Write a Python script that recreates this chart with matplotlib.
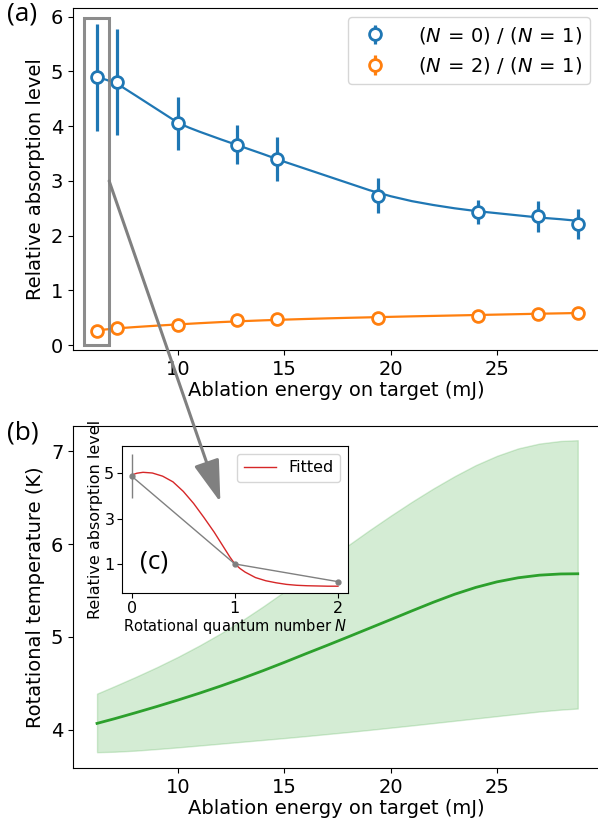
import matplotlib
matplotlib.use("Agg")
import matplotlib.pyplot as plt
from matplotlib.patches import Rectangle, ConnectionPatch

plt.rcParams.update({
    "font.family": "DejaVu Sans",
    "font.size": 14,
    "mathtext.fontset": "dejavusans",
})

AZUL = "tab:blue"
LARANJA = "tab:orange"
VERDE = "tab:green"

# energia de ablacao (mJ) de cada medida
energia = [6.18, 7.11, 9.99, 12.77, 14.66, 19.40, 24.12, 26.92, 28.81]
# razao (N=0)/(N=1) e incerteza
r01 = [4.89, 4.81, 4.05, 3.66, 3.40, 2.73, 2.44, 2.35, 2.21]
r01_err = [0.97, 0.97, 0.48, 0.36, 0.40, 0.32, 0.22, 0.28, 0.27]
# razao (N=2)/(N=1) e incerteza
r21 = [0.25, 0.31, 0.37, 0.46, 0.47, 0.50, 0.54, 0.57, 0.59]
r21_err = [0.03, 0.03, 0.03, 0.03, 0.03, 0.03, 0.03, 0.03, 0.03]

# curvas ajustadas
e_fit01 = [6.18, 6.6, 7.11, 8, 9, 9.5, 10, 10.5, 11, 12, 13, 14, 15, 16, 17, 18, 19, 20,
           21, 22, 23, 24, 25, 26, 27, 28, 28.81]
r01_fit = [4.89, 4.85, 4.78, 4.56, 4.31, 4.185, 4.06, 3.975, 3.90, 3.76, 3.625, 3.49, 3.35,
           3.22, 3.09, 2.96, 2.83, 2.72, 2.63, 2.56, 2.50, 2.45, 2.41, 2.37, 2.33, 2.30, 2.27]
e_fit21 = [6.18, 7.1, 8, 9, 10, 11, 12, 13, 14, 15, 16, 17, 18, 19, 20, 21, 22, 23, 24, 25,
           26, 27, 28, 28.8]
r21_fit = [0.27, 0.305, 0.33, 0.355, 0.378, 0.40, 0.42, 0.437, 0.452, 0.465, 0.477, 0.488,
           0.498, 0.507, 0.516, 0.525, 0.533, 0.541, 0.549, 0.557, 0.565, 0.573, 0.58, 0.586]

# temperatura rotacional e banda de incerteza
e_temp = [6.18, 7, 8, 9, 10, 11, 12, 13, 14, 15, 16, 17, 18, 19, 20, 21, 22, 23, 24, 25,
          26, 27, 28, 28.8]
temp = [4.07, 4.12, 4.185, 4.252, 4.322, 4.395, 4.472, 4.553, 4.638, 4.727, 4.819, 4.909,
        5.001, 5.094, 5.187, 5.281, 5.373, 5.459, 5.533, 5.593, 5.637, 5.665, 5.678, 5.68]
temp_sup = [4.39, 4.47, 4.57, 4.675, 4.787, 4.908, 5.038, 5.177, 5.329, 5.489, 5.654, 5.821,
            5.987, 6.149, 6.305, 6.455, 6.597, 6.729, 6.849, 6.949, 7.029, 7.081, 7.109, 7.117]
temp_inf = [3.76, 3.765, 3.777, 3.794, 3.812, 3.832, 3.852, 3.872, 3.892, 3.912, 3.933, 3.955,
            3.977, 4.0, 4.024, 4.048, 4.073, 4.098, 4.123, 4.148, 4.173, 4.198, 4.218, 4.23]

# distribuicao rotacional do primeiro ponto
n_rot = [0, 1, 2]
pop = [4.87, 1.0, 0.22]
pop_err = [0.97, 0, 0]
n_fit = [0, 0.05, 0.11, 0.2, 0.3, 0.4, 0.5, 0.6, 0.7, 0.8, 0.9, 0.95, 1.0, 1.05, 1.1, 1.2,
         1.3, 1.4, 1.5, 1.6, 1.7, 1.8, 1.9, 2.0]
pop_fit = [4.92, 5.0, 5.04, 5.01, 4.87, 4.62, 4.2, 3.67, 3.05, 2.4, 1.68, 1.32, 1.0, 0.80,
           0.64, 0.40, 0.26, 0.17, 0.10, 0.06, 0.04, 0.03, 0.02, 0.02]

fig = plt.figure(figsize=(5.98, 8.26), dpi=100)
W, H = 598, 826
ax_a = fig.add_axes([73 / W, 1 - 350 / H, (599 - 73) / W, (350 - 8) / H])
ax_b = fig.add_axes([73 / W, 1 - 768 / H, (599 - 73) / W, (768 - 426) / H])
ax_c = fig.add_axes([122 / W, 1 - 593 / H, (348 - 122) / W, (593 - 446) / H])

# ---------------------------------------------------------------------------
# (a) razoes de absorcao
# ---------------------------------------------------------------------------
estilo = dict(fmt="o", mfc="white", ms=8.5, mew=2, elinewidth=2.3, capsize=0, zorder=3)
ax_a.errorbar(energia, r01, yerr=r01_err, color=AZUL, mec=AZUL,
              label=r"$(N\,=\,0)$ / $(N\,=\,1)$", **estilo)
ax_a.errorbar(energia, r21, yerr=r21_err, color=LARANJA, mec=LARANJA,
              label=r"$(N\,=\,2)$ / $(N\,=\,1)$", **estilo)
ax_a.plot(e_fit01, r01_fit, color=AZUL, lw=1.6, zorder=2)
ax_a.plot(e_fit21, r21_fit, color=LARANJA, lw=1.6, zorder=2)
ax_a.add_patch(Rectangle((5.55, 0), 1.2, 5.97, fill=False, edgecolor="gray",
                         lw=2.2, alpha=0.9, zorder=4))
ax_a.set_xlim(5.05, 29.8)
ax_a.set_ylim(-0.09, 6.16)
ax_a.set_xticks([10, 15, 20, 25])
ax_a.set_yticks(range(7))
ax_a.set_xlabel("Ablation energy on target (mJ)", labelpad=2)
ax_a.set_ylabel("Relative absorption level")
ax_a.legend(loc="upper right", fontsize=14, handletextpad=1.2, borderaxespad=0.45)

# ---------------------------------------------------------------------------
# (b) temperatura rotacional
# ---------------------------------------------------------------------------
ax_b.fill_between(e_temp, temp_inf, temp_sup, color=VERDE, alpha=0.2)
ax_b.plot(e_temp, temp, color=VERDE, lw=2)
ax_b.set_xlim(5.05, 29.8)
ax_b.set_ylim(3.59, 7.27)
ax_b.set_xticks([10, 15, 20, 25])
ax_b.set_yticks([4, 5, 6, 7])
ax_b.set_xlabel("Ablation energy on target (mJ)", labelpad=2)
ax_b.set_ylabel("Rotational temperature (K)")

# ---------------------------------------------------------------------------
# (c) distribuicao rotacional (inset)
# ---------------------------------------------------------------------------
ax_c.errorbar(n_rot, pop, yerr=pop_err, fmt="-o", color="gray", ms=3.5, lw=1,
              elinewidth=1, capsize=0)
ax_c.plot(n_fit, pop_fit, color="tab:red", lw=1, label="Fitted")
ax_c.set_xlim(-0.094, 2.097)
ax_c.set_ylim(-0.28, 6.2)
ax_c.set_xticks([0, 1, 2])
ax_c.set_yticks([1, 3, 5])
ax_c.tick_params(labelsize=11.5, pad=2)
ax_c.set_xlabel("Rotational quantum number $N$", fontsize=10.5, labelpad=1)
ax_c.set_ylabel("Relative absorption level", fontsize=11.5, labelpad=1)
ax_c.legend(loc="upper right", fontsize=11.5)
ax_c.text(0.14, 0.21, "(c)", transform=ax_c.transAxes, ha="center", va="center",
          fontsize=19, family="Open Sans")

# seta ligando o primeiro ponto ao inset
seta = ConnectionPatch(xyA=(6.75, 3.0), coordsA=ax_a.transData,
                       xyB=(0.86, 3.72), coordsB=ax_c.transData,
                       arrowstyle="-|>,head_length=1.3,head_width=0.4",
                       mutation_scale=20, color="gray", lw=2.2, zorder=10)
fig.add_artist(seta)

fig.text(7 / W, 1 - 14 / H, "(a)", fontsize=19, family="Open Sans", va="center", ha="left")
fig.text(7 / W, 1 - 433 / H, "(b)", fontsize=19, family="Open Sans", va="center", ha="left")

fig.savefig("out.png", dpi=100)
